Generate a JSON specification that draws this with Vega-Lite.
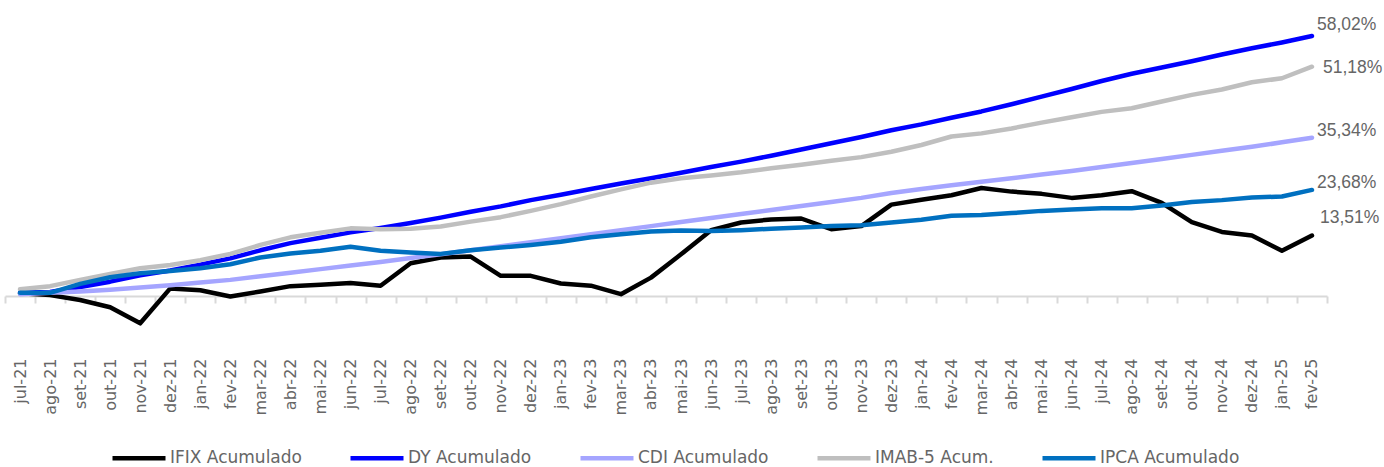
{
  "$schema": "https://vega.github.io/schema/vega-lite/v6.json",
  "width": 1322,
  "height": 313.6,
  "autosize": {"type": "none"},
  "padding": {"left": 5, "top": 27.2, "right": 57, "bottom": 126.2},
  "background": "white",
  "config": {
    "view": {"stroke": null},
    "font": "DejaVu Sans",
    "locale": {"number": {"decimal": ",", "thousands": ".", "grouping": [3], "currency": ["R$", ""]}}
  },
  "datasets": {
    "d": [
      {"m":"jul-21","s":"IFIX Acumulado","v":0.006},{"m":"ago-21","s":"IFIX Acumulado","v":0.002},{"m":"set-21","s":"IFIX Acumulado","v":-0.009},{"m":"out-21","s":"IFIX Acumulado","v":-0.025},{"m":"nov-21","s":"IFIX Acumulado","v":-0.061},{"m":"dez-21","s":"IFIX Acumulado","v":0.017},{"m":"jan-22","s":"IFIX Acumulado","v":0.013},{"m":"fev-22","s":"IFIX Acumulado","v":-0.001},{"m":"mar-22","s":"IFIX Acumulado","v":0.010},{"m":"abr-22","s":"IFIX Acumulado","v":0.022},{"m":"mai-22","s":"IFIX Acumulado","v":0.025},{"m":"jun-22","s":"IFIX Acumulado","v":0.029},{"m":"jul-22","s":"IFIX Acumulado","v":0.023},{"m":"ago-22","s":"IFIX Acumulado","v":0.073},{"m":"set-22","s":"IFIX Acumulado","v":0.086},{"m":"out-22","s":"IFIX Acumulado","v":0.088},{"m":"nov-22","s":"IFIX Acumulado","v":0.045},{"m":"dez-22","s":"IFIX Acumulado","v":0.045},{"m":"jan-23","s":"IFIX Acumulado","v":0.028},{"m":"fev-23","s":"IFIX Acumulado","v":0.023},{"m":"mar-23","s":"IFIX Acumulado","v":0.004},{"m":"abr-23","s":"IFIX Acumulado","v":0.041},{"m":"mai-23","s":"IFIX Acumulado","v":0.093},{"m":"jun-23","s":"IFIX Acumulado","v":0.147},{"m":"jul-23","s":"IFIX Acumulado","v":0.164},{"m":"ago-23","s":"IFIX Acumulado","v":0.171},{"m":"set-23","s":"IFIX Acumulado","v":0.173},{"m":"out-23","s":"IFIX Acumulado","v":0.149},{"m":"nov-23","s":"IFIX Acumulado","v":0.156},{"m":"dez-23","s":"IFIX Acumulado","v":0.204},{"m":"jan-24","s":"IFIX Acumulado","v":0.215},{"m":"fev-24","s":"IFIX Acumulado","v":0.225},{"m":"mar-24","s":"IFIX Acumulado","v":0.241},{"m":"abr-24","s":"IFIX Acumulado","v":0.233},{"m":"mai-24","s":"IFIX Acumulado","v":0.228},{"m":"jun-24","s":"IFIX Acumulado","v":0.219},{"m":"jul-24","s":"IFIX Acumulado","v":0.225},{"m":"ago-24","s":"IFIX Acumulado","v":0.234},{"m":"set-24","s":"IFIX Acumulado","v":0.208},{"m":"out-24","s":"IFIX Acumulado","v":0.165},{"m":"nov-24","s":"IFIX Acumulado","v":0.143},{"m":"dez-24","s":"IFIX Acumulado","v":0.135},{"m":"jan-25","s":"IFIX Acumulado","v":0.101},{"m":"fev-25","s":"IFIX Acumulado","v":0.1351},
      {"m":"jul-21","s":"DY Acumulado","v":0.007},{"m":"ago-21","s":"DY Acumulado","v":0.009},{"m":"set-21","s":"DY Acumulado","v":0.020},{"m":"out-21","s":"DY Acumulado","v":0.032},{"m":"nov-21","s":"DY Acumulado","v":0.046},{"m":"dez-21","s":"DY Acumulado","v":0.057},{"m":"jan-22","s":"DY Acumulado","v":0.070},{"m":"fev-22","s":"DY Acumulado","v":0.084},{"m":"mar-22","s":"DY Acumulado","v":0.102},{"m":"abr-22","s":"DY Acumulado","v":0.118},{"m":"mai-22","s":"DY Acumulado","v":0.130},{"m":"jun-22","s":"DY Acumulado","v":0.142},{"m":"jul-22","s":"DY Acumulado","v":0.152},{"m":"ago-22","s":"DY Acumulado","v":0.163},{"m":"set-22","s":"DY Acumulado","v":0.175},{"m":"out-22","s":"DY Acumulado","v":0.188},{"m":"nov-22","s":"DY Acumulado","v":0.200},{"m":"dez-22","s":"DY Acumulado","v":0.214},{"m":"jan-23","s":"DY Acumulado","v":0.226},{"m":"fev-23","s":"DY Acumulado","v":0.239},{"m":"mar-23","s":"DY Acumulado","v":0.251},{"m":"abr-23","s":"DY Acumulado","v":0.263},{"m":"mai-23","s":"DY Acumulado","v":0.275},{"m":"jun-23","s":"DY Acumulado","v":0.288},{"m":"jul-23","s":"DY Acumulado","v":0.300},{"m":"ago-23","s":"DY Acumulado","v":0.313},{"m":"set-23","s":"DY Acumulado","v":0.327},{"m":"out-23","s":"DY Acumulado","v":0.341},{"m":"nov-23","s":"DY Acumulado","v":0.355},{"m":"dez-23","s":"DY Acumulado","v":0.370},{"m":"jan-24","s":"DY Acumulado","v":0.383},{"m":"fev-24","s":"DY Acumulado","v":0.398},{"m":"mar-24","s":"DY Acumulado","v":0.412},{"m":"abr-24","s":"DY Acumulado","v":0.428},{"m":"mai-24","s":"DY Acumulado","v":0.445},{"m":"jun-24","s":"DY Acumulado","v":0.462},{"m":"jul-24","s":"DY Acumulado","v":0.480},{"m":"ago-24","s":"DY Acumulado","v":0.496},{"m":"set-24","s":"DY Acumulado","v":0.510},{"m":"out-24","s":"DY Acumulado","v":0.524},{"m":"nov-24","s":"DY Acumulado","v":0.539},{"m":"dez-24","s":"DY Acumulado","v":0.553},{"m":"jan-25","s":"DY Acumulado","v":0.566},{"m":"fev-25","s":"DY Acumulado","v":0.5802},
      {"m":"jul-21","s":"CDI Acumulado","v":0.004},{"m":"ago-21","s":"CDI Acumulado","v":0.007},{"m":"set-21","s":"CDI Acumulado","v":0.010},{"m":"out-21","s":"CDI Acumulado","v":0.014},{"m":"nov-21","s":"CDI Acumulado","v":0.019},{"m":"dez-21","s":"CDI Acumulado","v":0.024},{"m":"jan-22","s":"CDI Acumulado","v":0.030},{"m":"fev-22","s":"CDI Acumulado","v":0.036},{"m":"mar-22","s":"CDI Acumulado","v":0.044},{"m":"abr-22","s":"CDI Acumulado","v":0.052},{"m":"mai-22","s":"CDI Acumulado","v":0.060},{"m":"jun-22","s":"CDI Acumulado","v":0.068},{"m":"jul-22","s":"CDI Acumulado","v":0.076},{"m":"ago-22","s":"CDI Acumulado","v":0.085},{"m":"set-22","s":"CDI Acumulado","v":0.093},{"m":"out-22","s":"CDI Acumulado","v":0.102},{"m":"nov-22","s":"CDI Acumulado","v":0.111},{"m":"dez-22","s":"CDI Acumulado","v":0.120},{"m":"jan-23","s":"CDI Acumulado","v":0.129},{"m":"fev-23","s":"CDI Acumulado","v":0.138},{"m":"mar-23","s":"CDI Acumulado","v":0.147},{"m":"abr-23","s":"CDI Acumulado","v":0.156},{"m":"mai-23","s":"CDI Acumulado","v":0.165},{"m":"jun-23","s":"CDI Acumulado","v":0.174},{"m":"jul-23","s":"CDI Acumulado","v":0.183},{"m":"ago-23","s":"CDI Acumulado","v":0.192},{"m":"set-23","s":"CDI Acumulado","v":0.201},{"m":"out-23","s":"CDI Acumulado","v":0.210},{"m":"nov-23","s":"CDI Acumulado","v":0.219},{"m":"dez-23","s":"CDI Acumulado","v":0.230},{"m":"jan-24","s":"CDI Acumulado","v":0.239},{"m":"fev-24","s":"CDI Acumulado","v":0.247},{"m":"mar-24","s":"CDI Acumulado","v":0.255},{"m":"abr-24","s":"CDI Acumulado","v":0.263},{"m":"mai-24","s":"CDI Acumulado","v":0.271},{"m":"jun-24","s":"CDI Acumulado","v":0.279},{"m":"jul-24","s":"CDI Acumulado","v":0.288},{"m":"ago-24","s":"CDI Acumulado","v":0.297},{"m":"set-24","s":"CDI Acumulado","v":0.306},{"m":"out-24","s":"CDI Acumulado","v":0.315},{"m":"nov-24","s":"CDI Acumulado","v":0.324},{"m":"dez-24","s":"CDI Acumulado","v":0.333},{"m":"jan-25","s":"CDI Acumulado","v":0.343},{"m":"fev-25","s":"CDI Acumulado","v":0.3534},
      {"m":"jul-21","s":"IMAB-5 Acum.","v":0.015},{"m":"ago-21","s":"IMAB-5 Acum.","v":0.022},{"m":"set-21","s":"IMAB-5 Acum.","v":0.036},{"m":"out-21","s":"IMAB-5 Acum.","v":0.049},{"m":"nov-21","s":"IMAB-5 Acum.","v":0.062},{"m":"dez-21","s":"IMAB-5 Acum.","v":0.069},{"m":"jan-22","s":"IMAB-5 Acum.","v":0.080},{"m":"fev-22","s":"IMAB-5 Acum.","v":0.094},{"m":"mar-22","s":"IMAB-5 Acum.","v":0.114},{"m":"abr-22","s":"IMAB-5 Acum.","v":0.131},{"m":"mai-22","s":"IMAB-5 Acum.","v":0.141},{"m":"jun-22","s":"IMAB-5 Acum.","v":0.151},{"m":"jul-22","s":"IMAB-5 Acum.","v":0.149},{"m":"ago-22","s":"IMAB-5 Acum.","v":0.150},{"m":"set-22","s":"IMAB-5 Acum.","v":0.155},{"m":"out-22","s":"IMAB-5 Acum.","v":0.166},{"m":"nov-22","s":"IMAB-5 Acum.","v":0.176},{"m":"dez-22","s":"IMAB-5 Acum.","v":0.190},{"m":"jan-23","s":"IMAB-5 Acum.","v":0.205},{"m":"fev-23","s":"IMAB-5 Acum.","v":0.222},{"m":"mar-23","s":"IMAB-5 Acum.","v":0.238},{"m":"abr-23","s":"IMAB-5 Acum.","v":0.253},{"m":"mai-23","s":"IMAB-5 Acum.","v":0.263},{"m":"jun-23","s":"IMAB-5 Acum.","v":0.269},{"m":"jul-23","s":"IMAB-5 Acum.","v":0.276},{"m":"ago-23","s":"IMAB-5 Acum.","v":0.285},{"m":"set-23","s":"IMAB-5 Acum.","v":0.293},{"m":"out-23","s":"IMAB-5 Acum.","v":0.302},{"m":"nov-23","s":"IMAB-5 Acum.","v":0.310},{"m":"dez-23","s":"IMAB-5 Acum.","v":0.322},{"m":"jan-24","s":"IMAB-5 Acum.","v":0.337},{"m":"fev-24","s":"IMAB-5 Acum.","v":0.356},{"m":"mar-24","s":"IMAB-5 Acum.","v":0.363},{"m":"abr-24","s":"IMAB-5 Acum.","v":0.374},{"m":"mai-24","s":"IMAB-5 Acum.","v":0.387},{"m":"jun-24","s":"IMAB-5 Acum.","v":0.399},{"m":"jul-24","s":"IMAB-5 Acum.","v":0.411},{"m":"ago-24","s":"IMAB-5 Acum.","v":0.419},{"m":"set-24","s":"IMAB-5 Acum.","v":0.434},{"m":"out-24","s":"IMAB-5 Acum.","v":0.449},{"m":"nov-24","s":"IMAB-5 Acum.","v":0.461},{"m":"dez-24","s":"IMAB-5 Acum.","v":0.477},{"m":"jan-25","s":"IMAB-5 Acum.","v":0.486},{"m":"fev-25","s":"IMAB-5 Acum.","v":0.5118},
      {"m":"jul-21","s":"IPCA Acumulado","v":0.007},{"m":"ago-21","s":"IPCA Acumulado","v":0.007},{"m":"set-21","s":"IPCA Acumulado","v":0.027},{"m":"out-21","s":"IPCA Acumulado","v":0.042},{"m":"nov-21","s":"IPCA Acumulado","v":0.051},{"m":"dez-21","s":"IPCA Acumulado","v":0.056},{"m":"jan-22","s":"IPCA Acumulado","v":0.062},{"m":"fev-22","s":"IPCA Acumulado","v":0.071},{"m":"mar-22","s":"IPCA Acumulado","v":0.086},{"m":"abr-22","s":"IPCA Acumulado","v":0.095},{"m":"mai-22","s":"IPCA Acumulado","v":0.101},{"m":"jun-22","s":"IPCA Acumulado","v":0.110},{"m":"jul-22","s":"IPCA Acumulado","v":0.101},{"m":"ago-22","s":"IPCA Acumulado","v":0.097},{"m":"set-22","s":"IPCA Acumulado","v":0.094},{"m":"out-22","s":"IPCA Acumulado","v":0.102},{"m":"nov-22","s":"IPCA Acumulado","v":0.108},{"m":"dez-22","s":"IPCA Acumulado","v":0.114},{"m":"jan-23","s":"IPCA Acumulado","v":0.121},{"m":"fev-23","s":"IPCA Acumulado","v":0.131},{"m":"mar-23","s":"IPCA Acumulado","v":0.138},{"m":"abr-23","s":"IPCA Acumulado","v":0.144},{"m":"mai-23","s":"IPCA Acumulado","v":0.146},{"m":"jun-23","s":"IPCA Acumulado","v":0.145},{"m":"jul-23","s":"IPCA Acumulado","v":0.147},{"m":"ago-23","s":"IPCA Acumulado","v":0.150},{"m":"set-23","s":"IPCA Acumulado","v":0.153},{"m":"out-23","s":"IPCA Acumulado","v":0.156},{"m":"nov-23","s":"IPCA Acumulado","v":0.158},{"m":"dez-23","s":"IPCA Acumulado","v":0.164},{"m":"jan-24","s":"IPCA Acumulado","v":0.170},{"m":"fev-24","s":"IPCA Acumulado","v":0.179},{"m":"mar-24","s":"IPCA Acumulado","v":0.181},{"m":"abr-24","s":"IPCA Acumulado","v":0.185},{"m":"mai-24","s":"IPCA Acumulado","v":0.190},{"m":"jun-24","s":"IPCA Acumulado","v":0.193},{"m":"jul-24","s":"IPCA Acumulado","v":0.196},{"m":"ago-24","s":"IPCA Acumulado","v":0.196},{"m":"set-24","s":"IPCA Acumulado","v":0.202},{"m":"out-24","s":"IPCA Acumulado","v":0.210},{"m":"nov-24","s":"IPCA Acumulado","v":0.214},{"m":"dez-24","s":"IPCA Acumulado","v":0.220},{"m":"jan-25","s":"IPCA Acumulado","v":0.222},{"m":"fev-25","s":"IPCA Acumulado","v":0.2368}
    ]
  },
  "data": {"name": "d"},
  "encoding": {
    "x": {
      "field": "m", "type": "nominal", "sort": null,
      "scale": {"paddingInner": 0, "paddingOuter": 0},
      "axis": {
        "title": null, "orient": "bottom", "offset": -44.8, "grid": false,
        "domainColor": "#d9d9d9", "domainWidth": 2,
        "tickColor": "#d9d9d9", "tickWidth": 2, "tickSize": 7, "tickBand": "extent",
        "labelAngle": -90, "labelPadding": 55, "labelFont": "DejaVu Sans", "labelFontSize": 16, "labelColor": "#666666"
      }
    },
    "y": {"field": "v", "type": "quantitative", "scale": {"domain": [-0.1, 0.6], "nice": false, "zero": false}, "axis": null}
  },
  "layer": [
    {
      "mark": {"type": "line", "strokeWidth": 4.5, "strokeCap": "round", "strokeJoin": "round"},
      "encoding": {
        "color": {
          "field": "s", "type": "nominal", "sort": null,
          "scale": {
            "domain": ["IFIX Acumulado", "DY Acumulado", "CDI Acumulado", "IMAB-5 Acum.", "IPCA Acumulado"],
            "range": ["#000000", "#0000FF", "#A5A5FF", "#BFBFBF", "#0070C0"]
          },
          "legend": {
            "title": null, "orient": "none", "legendX": 105, "legendY": 402, "direction": "horizontal",
            "symbolType": "stroke", "symbolSize": 2809, "symbolStrokeWidth": 4.5,
            "labelFont": "DejaVu Sans", "labelFontSize": 17, "labelColor": "#666666", "labelOffset": 2,
            "columnPadding": 39, "padding": 0, "labelLimit": 300
          }
        }
      }
    },
    {
      "transform": [{"filter": "datum.m === 'fev-25' && datum.s === 'DY Acumulado'"}],
      "mark": {"type": "text", "align": "left", "baseline": "alphabetic", "dx": 5, "dy": -6, "font": "Liberation Sans", "fontSize": 17.5, "color": "#666666"},
      "encoding": {"text": {"field": "v", "type": "quantitative", "format": ".2%"}}
    },
    {
      "transform": [{"filter": "datum.m === 'fev-25' && datum.s === 'IMAB-5 Acum.'"}],
      "mark": {"type": "text", "align": "left", "baseline": "alphabetic", "dx": 11, "dy": 6, "font": "Liberation Sans", "fontSize": 17.5, "color": "#666666"},
      "encoding": {"text": {"field": "v", "type": "quantitative", "format": ".2%"}}
    },
    {
      "transform": [{"filter": "datum.m === 'fev-25' && (datum.s === 'CDI Acumulado' || datum.s === 'IPCA Acumulado')"}],
      "mark": {"type": "text", "align": "left", "baseline": "alphabetic", "dx": 5, "dy": -2, "font": "Liberation Sans", "fontSize": 17.5, "color": "#666666"},
      "encoding": {"text": {"field": "v", "type": "quantitative", "format": ".2%"}}
    },
    {
      "transform": [{"filter": "datum.m === 'fev-25' && datum.s === 'IFIX Acumulado'"}],
      "mark": {"type": "text", "align": "left", "baseline": "alphabetic", "dx": 8, "dy": -12, "font": "Liberation Sans", "fontSize": 17.5, "color": "#666666"},
      "encoding": {"text": {"field": "v", "type": "quantitative", "format": ".2%"}}
    }
  ]
}
